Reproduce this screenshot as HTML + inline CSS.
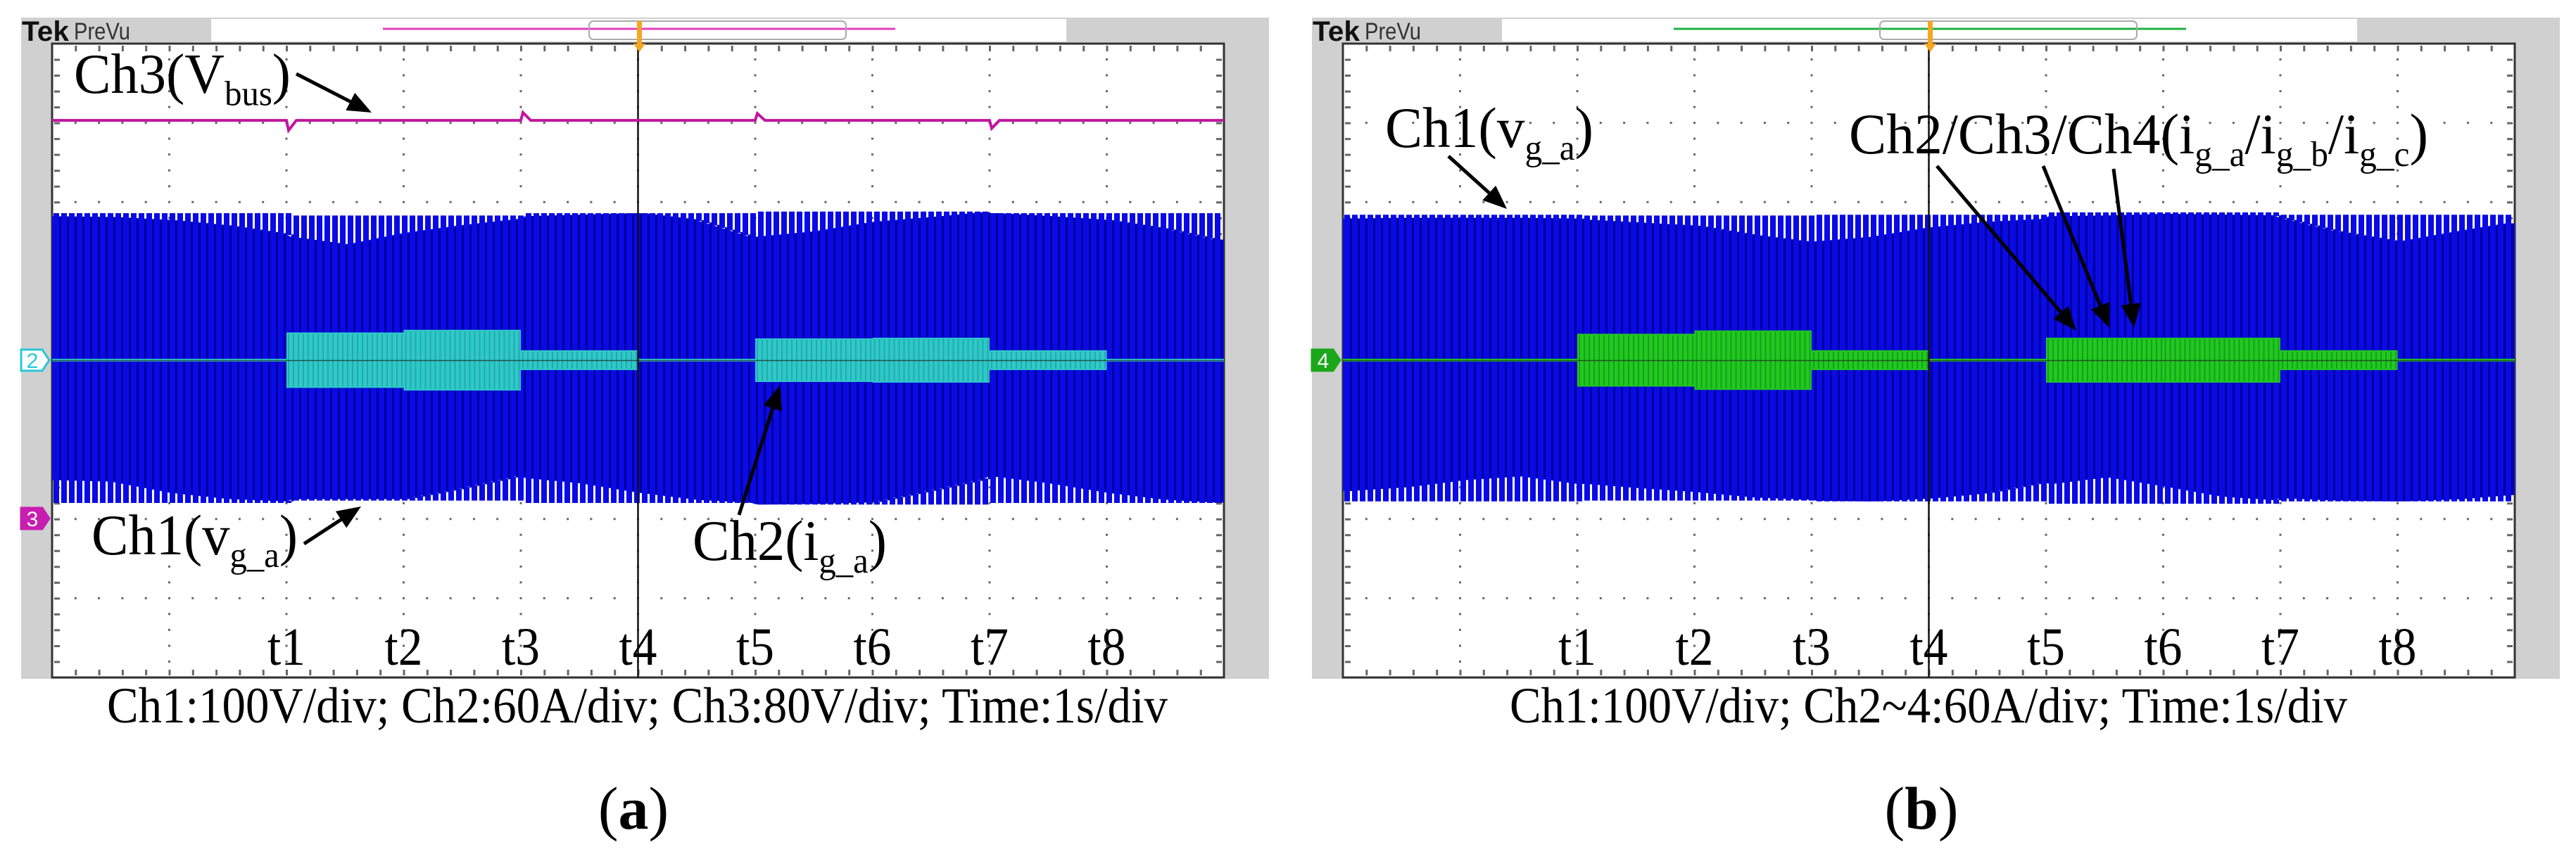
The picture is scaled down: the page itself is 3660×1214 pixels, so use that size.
<!DOCTYPE html>
<html><head><meta charset="utf-8"><style>html,body{margin:0;padding:0;background:#fff}svg{display:block}</style></head>
<body>
<svg id="chart" xmlns="http://www.w3.org/2000/svg" width="3660" height="1214" viewBox="0 0 3660 1214">
<rect x="0" y="0" width="3660" height="1214" fill="#fff"/>
<g id="layer"></g>
</svg>
<script>
// ---- data ----
const halfDivTimes = [0,0.5,1,1.5,2,2.5,3,3.5,4,4.5,5,5.5,6,6.5,7,7.5,8,8.5,9,9.5,10];
const tickLabels = ['t1','t2','t3','t4','t5','t6','t7','t8'];
const tickTimes = [2,3,4,5,6,7,8,9];
const ch1SegTimes = [0,2,4,6,8,10];
const ch1AmpA = [183,180,183,185,183];
const ch1AmpB = [181,180,181,184,181];
const topDipA = [4,5,9,16,27,37,22,12,4,2,0,9,32,25,13,7,0,4,9,20,36];
const botDipA = [29,27,13,5,2,2,2,16,32,25,13,4,0,1,3,18,34,25,13,4,0];
const topDipB = [5,4,4,4,5,9,13,25,34,28,16,9,5,4,2,3,4,22,34,21,9];
const botDipB = [13,18,27,32,22,16,11,4,1,0,4,11,25,34,22,9,4,1,0,3,9];
const curTimes = [2,3,4,5,6,7,8,9];
const curAmpA = [21,23,7.5,0,16.5,17,7.5];
const curAmpB = [20,22.5,7.5,0,17,17,7.5];
const vbusLevel = 402;
const vbusEventTimes = [2,4,6,8];
const vbusEventDelta = [-10,8,7,-8];

const NS='http://www.w3.org/2000/svg';
const layer=document.getElementById('layer');
function el(tag, attrs, parent){const e=document.createElementNS(NS,tag);for(const k in attrs)e.setAttribute(k,attrs[k]);(parent||layer).appendChild(e);return e;}
function interp(arr,t){const i=Math.min(arr.length-2,Math.max(0,Math.floor(t/0.5)));const f=(t-halfDivTimes[i])/0.5;return arr[i]+(arr[i+1]-arr[i])*f;}
function segVal(times,vals,t){for(let i=0;i<vals.length;i++){if(t>=times[i]&&t<times[i+1])return vals[i];}return vals[vals.length-1];}

const X0=74,Y0=62,PW=1665,PH=901,DX=166.5,DY=PH/8;
function xT(t,ox){return ox+X0+t*DX;}
function yV(v){return 509-v*1.126;}
function yI(i){return 512-i*1.877;}
function yB(v){return 737-v*1.4075;}

function drawPanel(ox,p){
  const g=el('g',{});
  
  
  const fr=el('rect',{x:ox+30,y:25,width:1773,height:940,fill:'#d0d0d0'},g);
  
  
  const hb=el('rect',{x:ox+300,y:27,width:1215,height:32,fill:'#fff'},g);
  
  
  const tek=el('text',{x:ox+31,y:58,'font-family':'Liberation Sans, sans-serif','font-weight':'bold','font-size':40,fill:'#111',textLength:67,lengthAdjust:'spacingAndGlyphs'},g);
  tek.textContent='Tek';
  
  
  const pv=el('text',{x:ox+105,y:56,'font-family':'Liberation Sans Narrow, Liberation Sans, sans-serif','font-size':34,fill:'#333',textLength:80,lengthAdjust:'spacingAndGlyphs'},g);
  pv.textContent='PreVu';
  
  
  const hl=el('line',{x1:ox+544,y1:41,x2:ox+1272,y2:41,stroke:p.headColor,'stroke-width':3},g);
  
  
  const br=el('rect',{x:ox+837,y:30,width:365,height:26,rx:6,fill:'none',stroke:'#aaa','stroke-width':2},g);
  
  
  // plot
  const pl=el('rect',{x:ox+X0,y:Y0,width:PW,height:PH,fill:'#fff',stroke:'#333','stroke-width':3},g);
  
  
  // grid dots
  let d='';
  for(let i=1;i<10;i++){const x=ox+X0+i*DX;for(let k=1;k<40;k++){const y=Y0+k*DY/5;d+=`M${x-1.5},${y-1.5}h3v3h-3z`;}}
  for(let j=1;j<8;j++){const y=Y0+j*DY;for(let k=1;k<50;k++){const x=ox+X0+k*DX/5;d+=`M${x-1.5},${y-1.5}h3v3h-3z`;}}
  for(let k=1;k<50;k++){const x=ox+X0+k*DX/5;d+=`M${x-1},${Y0+3}h3v8h-3zM${x-1},${Y0+PH-11}h3v8h-3z`;}
  for(let k=1;k<40;k++){const y=Y0+k*DY/5;d+=`M${ox+X0+3},${y-1}h8v3h-8zM${ox+X0+PW-11},${y-1}h8v3h-8z`;}
  const gd=el('path',{d:d,fill:'#666'},g);
  
  
  // ch1 voltage
  const sg=el('g',{},g);
  
  
  let core='',stripes='',dark='';let topPts=[],botPts=[];
  for(let x=ox+X0+2;x<ox+X0+PW-2;x+=11){
    const t=(x-ox-X0)/DX;
    const amp=segVal(ch1SegTimes,p.amp,t);
    const tt=yV(amp),ti=yV(amp-interp(p.topDip,t));
    const bb=yV(-amp),bi=yV(-(amp-interp(p.botDip,t)));
    const w=Math.min(8,ox+X0+PW-x);
    stripes+=`M${x},${tt}h${w}V${ti+1}h${-w}z M${x},${bi-1}h${w}V${bb}h${-w}z `;
    topPts.push([x,ti]);botPts.push([x,bi]);
    if(x+8<ox+X0+PW) dark+=`M${x+9.5},${ti}V${bi} `;
  }
  topPts.unshift([ox+X0,topPts[0][1]]);botPts.unshift([ox+X0,botPts[0][1]]);
  topPts.push([ox+X0+PW,topPts[topPts.length-1][1]]);botPts.push([ox+X0+PW,botPts[botPts.length-1][1]]);
  core='M'+topPts.map(q=>q.join(',')).join('L')+'L'+botPts.slice().reverse().map(q=>q.join(',')).join('L')+'Z';
  el('path',{d:core,fill:'#0a0ae6'},sg);
  el('path',{d:stripes,fill:'#0a0ae6'},sg);
  el('path',{d:dark,stroke:'#00009a','stroke-width':3,fill:'none'},sg);
  // current
  const cg=el('g',{},g);
  
  
  el('line',{x1:ox+X0,y1:yI(0),x2:ox+X0+PW,y2:yI(0),stroke:p.curColor,'stroke-width':4},cg);
  for(let i=0;i<p.cur.length;i++){
    if(p.cur[i]<=0)continue;
    const x1=xT(curTimes[i],ox),x2=xT(curTimes[i+1],ox);
    const r=el('rect',{x:x1,y:yI(p.cur[i]),width:x2-x1,height:yI(-p.cur[i])-yI(p.cur[i]),fill:p.curColor},cg);
    
    
    let h='';for(let x=x1+3;x<x2-2;x+=7)h+=`M${x},${yI(p.cur[i])+2}V${yI(-p.cur[i])-2}`;
    el('path',{d:h,stroke:p.curDark,'stroke-width':2,opacity:0.6},cg);
  }
  // centre cross lines
  el('line',{x1:ox+X0,y1:Y0+4*DY,x2:ox+X0+PW,y2:Y0+4*DY,stroke:'#222','stroke-width':1.5,opacity:0.7},g);
  const cv=el('line',{x1:ox+X0+5*DX,y1:Y0,x2:ox+X0+5*DX,y2:Y0+PH,stroke:'#111','stroke-width':2.5},g);
  
  
  // trigger
  const tr=el('path',{d:`M${ox+905},30h7v32h5l-8.5,12l-8.5,-12h5z`,fill:'#f5a623'},g);
  
  
  // tick labels
  for(let i=0;i<tickLabels.length;i++){
    const t=el('text',{x:xT(tickTimes[i],ox),y:945,'text-anchor':'middle','font-family':'Liberation Serif, serif','font-size':76,fill:'#000',textLength:54,lengthAdjust:'spacingAndGlyphs'},g);
    t.textContent=tickLabels[i];
    
    
  }
  return g;
}
function marker(x,y,color,label,filled,name){
  const m=el('g',{});
  
  
  el('path',{d:`M${x},${y-15}h30l10,15l-10,15h-30z`,fill:filled?color:'#fff',stroke:color,'stroke-width':3},m);
  const t=el('text',{x:x+16,y:y+11,'text-anchor':'middle','font-family':'Liberation Sans, sans-serif','font-size':30,fill:filled?'#fff':color},m);
  t.textContent=label;
}
function arrow(x1,y1,x2,y2,name){
  const a=el('g',{});
  
  
  const ang=Math.atan2(y2-y1,x2-x1),L=34,W=14;
  const bx=x2-L*Math.cos(ang),by=y2-L*Math.sin(ang);
  el('line',{x1:x1,y1:y1,x2:bx,y2:by,stroke:'#000','stroke-width':5},a);
  el('path',{d:`M${x2},${y2}L${bx+W*Math.sin(ang)},${by-W*Math.cos(ang)}L${bx-W*Math.sin(ang)},${by+W*Math.cos(ang)}Z`,fill:'#000'},a);
}
function label(x,y,len,parts,size,name){
  const t=el('text',{x:x,y:y,'font-family':'Liberation Serif, serif','font-size':size,fill:'#000',textLength:len,lengthAdjust:'spacingAndGlyphs'});
  
  
  let sub=false;
  parts.forEach(p=>{const s=document.createElementNS(NS,'tspan');const isSub=p[1];
    s.setAttribute('font-size',isSub?size*0.62:size);
    if(isSub!==sub){s.setAttribute('dy',isSub?size*0.22:-size*0.22);sub=isSub;}
    s.textContent=p[0];t.appendChild(s);});
}

// Panel A
drawPanel(0,{name:'panel-a',headColor:'#e040c0',amp:ch1AmpA,topDip:topDipA,botDip:botDipA,cur:curAmpA,curColor:'#30c8c8',curDark:'#169a9a'});
// Vbus trace
(function(){
  let d=`M${X0},${yB(vbusLevel)}`;
  for(let i=0;i<vbusEventTimes.length;i++){
    const x=xT(vbusEventTimes[i],0),y=yB(vbusLevel);
    d+=`L${x},${y}L${x+3},${yB(vbusLevel+vbusEventDelta[i])}L${x+14},${y}`;
  }
  d+=`L${X0+PW},${yB(vbusLevel)}`;
  const p=el('path',{d:d,stroke:'#c0169e','stroke-width':4,fill:'none'});
  
  
})();
marker(30,512,'#28c8d8','2',false,'ch2-marker');
marker(30,737,'#c81eb0','3',true,'ch3-marker');
label(105,132,308,[['Ch3(V',false],['bus',true],[')',false]],80,'ch3-vbus-label');
arrow(421,105,528,160,'ch3-arrow');
label(130,788,293,[['Ch1(v',false],['g_a',true],[')',false]],82,'ch1-label-a');
arrow(432,773,513,720,'ch1-arrow-a');
label(984,796,276,[['Ch2(i',false],['g_a',true],[')',false]],82,'ch2-label-a');
arrow(1050,732,1108,548,'ch2-arrow-a');

// Panel B
const OB=1834;
drawPanel(OB,{name:'panel-b',headColor:'#20b040',amp:ch1AmpB,topDip:topDipB,botDip:botDipB,cur:curAmpB,curColor:'#22c822',curDark:'#0c8a0c'});
marker(OB+30,512,'#1aa81a','4',true,'ch4-marker');
label(1968,209,296,[['Ch1(v',false],['g_a',true],[')',false]],82,'ch1-label-b');
arrow(2058,222,2141,297,'ch1-arrow-b');
label(2627,218,823,[['Ch2/Ch3/Ch4(i',false],['g_a',true],['/i',false],['g_b',true],['/i',false],['g_c',true],[')',false]],82,'currents-label-b');
arrow(2752,236,2950,470,'ch2-arrow-b');
arrow(2903,236,2997,466,'ch3-arrow-b');
arrow(3003,240,3032,466,'ch4-arrow-b');

// captions
function cap(x,y,len,txt,name){const t=el('text',{x:x,y:y,'font-family':'Liberation Serif, serif','font-size':72,fill:'#000',textLength:len,lengthAdjust:'spacingAndGlyphs'});t.textContent=txt;
  
  }
cap(152,1027,1507,'Ch1:100V/div; Ch2:60A/div; Ch3:80V/div; Time:1s/div','caption-a');
cap(2145,1027,1190,'Ch1:100V/div; Ch2~4:60A/div; Time:1s/div','caption-b');
function sub(x,letter,name){const t=el('text',{x:x,y:1178,'text-anchor':'middle','font-family':'Liberation Serif, serif','font-size':86,fill:'#000'});
  
  
  const a=document.createElementNS(NS,'tspan');a.textContent='(';t.appendChild(a);
  const b=document.createElementNS(NS,'tspan');b.setAttribute('font-weight','bold');b.textContent=letter;t.appendChild(b);
  const c=document.createElementNS(NS,'tspan');c.textContent=')';t.appendChild(c);}
sub(900,'a','panel-a-label');
sub(2730,'b','panel-b-label');
</script>
</body></html>
